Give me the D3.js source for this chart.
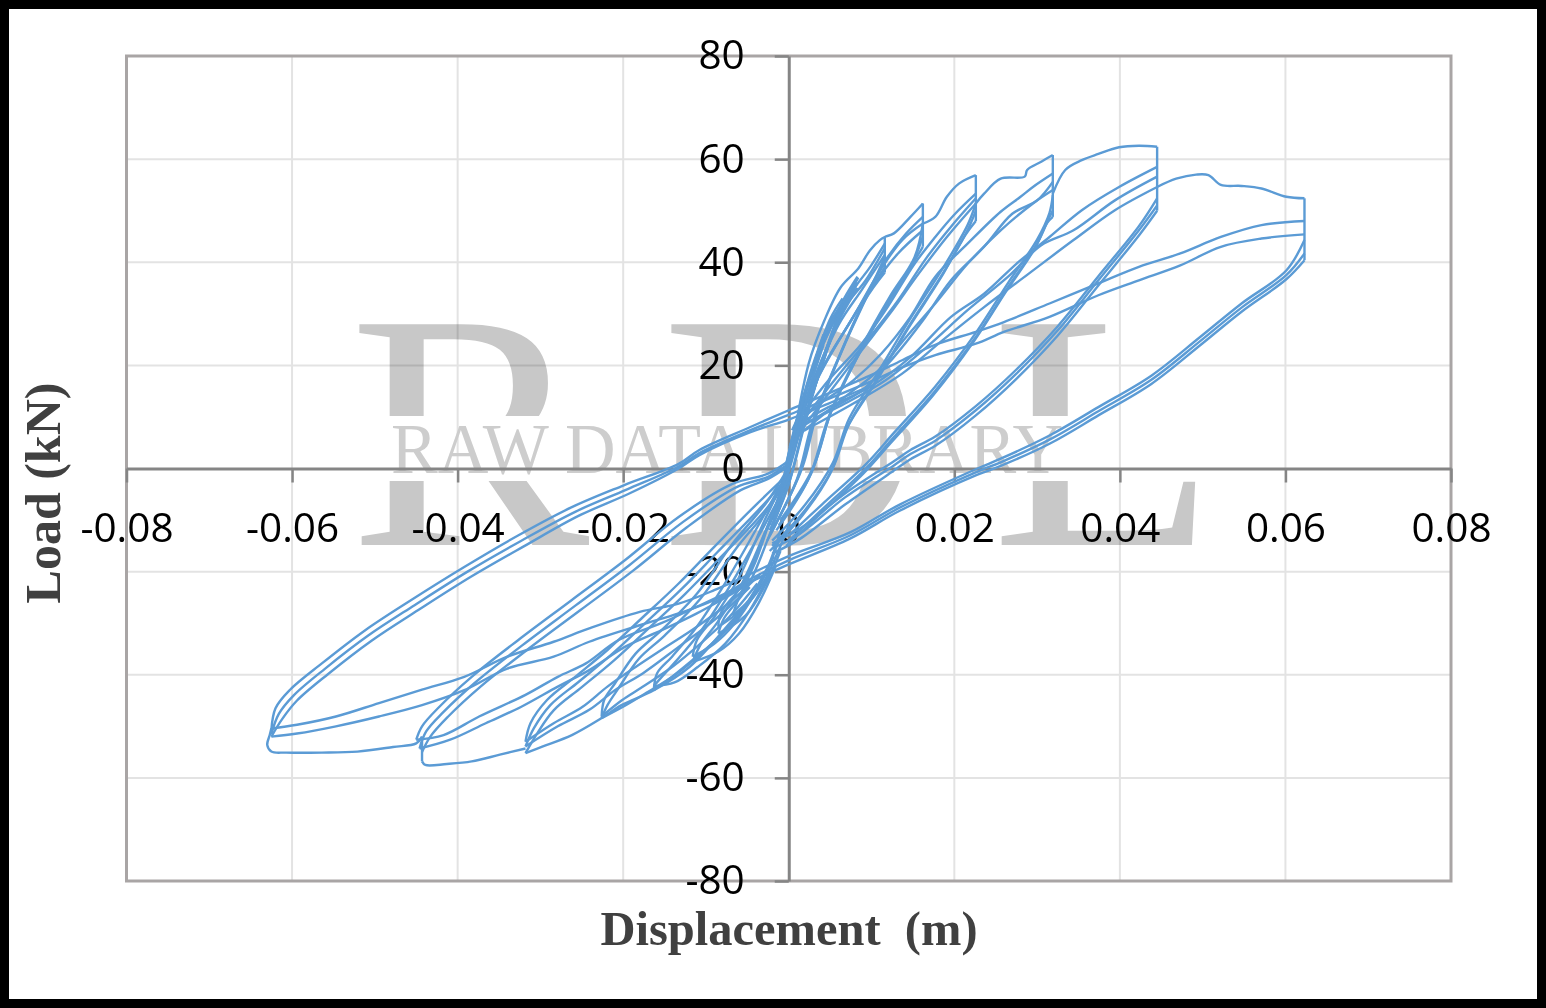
<!DOCTYPE html>
<html><head><meta charset="utf-8">
<script src="https://cdn.jsdelivr.net/npm/d3@7"></script>
<style>html,body{margin:0;padding:0;background:#fff}svg{display:block}</style>
</head><body><svg id="c" width="1546" height="1008"></svg>
<script>
const xTicks=[-0.08,-0.06,-0.04,-0.02,0,0.02,0.04,0.06,0.08];
const yTicks=[-80,-60,-40,-20,0,20,40,60,80];
const xTickLabels=["-0.08","-0.06","-0.04","-0.02","0","0.02","0.04","0.06","0.08"];
const yTickLabels=["-80","-60","-40","-20","0","20","40","60","80"];
const xTitle="Displacement  (m)", yTitle="Load (kN)";

// Virgin (first cycle) envelope, one array per amplitude step
const envPosA=[[0,0],[.0024,20.3],[.0043,28.7],[.0063,35.2],[.0084,38.8],[.0098,42.3],[.011,44.3],[.0116,44.9],[.0127,45.6],[.0147,48.8],[.0162,51.4]];
const envPosB=[[.0162,47.5],[.0177,48.8],[.0191,52.7],[.0206,55.3],[.0226,56.9]];
const envPosC=[[.0226,51.4],[.0236,53.3],[.0256,56.2],[.0285,56.6],[.0288,57.9],[.0305,59.5],[.0319,60.8]];
const envPosD=[[.0319,53.3],[.0334,57.9],[.0354,59.8],[.0374,61],[.0399,62.3],[.0423,62.6],[.0445,62.4]];
const envPosE=[[.0445,54.6],[.0468,56.2],[.0492,57],[.0507,56.9],[.0522,55],[.0547,54.8],[.0571,54.3],[.0601,52.7],[.0623,52.4]];
const envNegA=[[0,-11],[-.0034,-23],[-.0068,-29.4],[-.012,-38.5],[-.0163,-43],[-.0202,-45.9],[-.0226,-48.4],[-.0262,-51.7],[-.0297,-53.9],[-.0318,-55.2]];
const envNegB=[[-.0318,-54.3],[-.0349,-55.5],[-.0383,-56.8],[-.0413,-57.3],[-.0439,-57.5],[-.0443,-56.8]];
const envNegC=[[-.0443,-52],[-.045,-53.3],[-.0478,-54],[-.0521,-54.9],[-.0564,-55.1],[-.0607,-55.1],[-.0625,-54.9],[-.063,-53.6],[-.0627,-51.7],[-.0625,-50.4]];
// Straight drops at the tips
const tip62=[[.0623,52.4],[.0623,40.4]];
const tip45=[[.0445,62.4],[.0445,50]];
const tip32=[[.0319,60.8],[.0319,48.8]];
const tip22=[[.0226,56.9],[.0226,48]];
const tip16=[[.0162,51.4],[.0162,43]];
const tip11=[[.0116,44.9],[.0116,38]];
const tipN45=[[-.0443,-56.8],[-.0443,-52]];

// Reloading from the -0.0625 tip, up to the +0.0625 tip
const reloadL62a=[[-.0625,-50.7],[-.062,-46.5],[-.0603,-43],[-.0564,-37.8],[-.0512,-31.4],[-.0456,-25.5],[-.0392,-19.1],[-.0327,-13],[-.0262,-7.5],[-.02,-3.3],[-.0133,.9],[-.0108,3.6],[-.0047,8],[0,11.3],[.0098,18],[.0137,21],[.0177,24],[.0226,26.5],[.026,28.4],[.0315,32],[.0374,35.9],[.0423,39.1],[.0473,41.7],[.0522,44.9],[.0571,47.2],[.0623,48]];
const reloadL62b=[[-.0625,-51.5],[-.0616,-47.6],[-.0598,-44],[-.056,-38.8],[-.0508,-32.4],[-.0452,-26.5],[-.0388,-20],[-.0323,-14],[-.0258,-8.4],[-.0196,-4.1],[-.0133,.4],[-.0108,3],[-.0047,7.4],[0,10.4],[.0098,16.8],[.0137,19.6],[.0177,22],[.0226,24.2],[.026,26.5],[.0315,29.4],[.0374,33.6],[.0423,36.5],[.0473,39.4],[.0522,43],[.0571,44.6],[.0623,45.4]];
const reloadL62c=[[-.0625,-52],[-.0612,-48.6],[-.0594,-45],[-.0556,-39.8],[-.0504,-33.4],[-.0448,-27.5],[-.0384,-21],[-.0319,-15],[-.0254,-9.2],[-.0192,-4.8],[-.0133,0],[-.0108,2.6],[-.0047,7],[0,9.5],[.0048,12.6],[.0098,16]];
// Unloading from the +0.0625 tip, down to the -0.0625 tip
const unloadR62a=[[.0623,44.3],[.0601,38.4],[.0547,32],[.0497,25.5],[.0438,18],[.0374,11.9],[.0315,6.4],[.0256,1.9],[.0228,0],[.0134,-7],[.0074,-12.4],[0,-17],[-.0047,-20.5],[-.009,-23.6],[-.0133,-26.2],[-.018,-27.8],[-.0241,-31],[-.0284,-33.6],[-.034,-36.5],[-.0392,-40.4],[-.0443,-42.9],[-.0495,-45.5],[-.0547,-48.1],[-.0594,-49.7],[-.0625,-50.4]];
const unloadR62b=[[.0623,41.7],[.0601,37.5],[.0547,31.2],[.0497,24.7],[.0438,17.2],[.0374,11.1],[.0315,5.6],[.0256,1.2],[.0228,-.6],[.0134,-7.6],[.0074,-13],[0,-17.8],[-.0047,-21.5],[-.009,-25.5],[-.0133,-28.1],[-.018,-30.4],[-.0241,-33.6],[-.0284,-36.5],[-.034,-38.8],[-.0392,-43],[-.0443,-45.9],[-.0495,-48.1],[-.0547,-50],[-.0594,-51.4],[-.0625,-52]];
const unloadR62c=[[.0623,40.4],[.0601,36.7],[.0547,30.4],[.0497,23.9],[.0438,16.4],[.0374,10.3],[.0315,4.8],[.0256,.5],[.0228,-1.2],[.0134,-8.2],[.0074,-13.6],[0,-18.6],[-.0047,-22],[-.009,-26]];

// Amplitude 0.0445
const reload45a=[[.0019,9.3],[.0048,11.9],[.0098,15.8],[.0147,21.6],[.0196,29.4],[.0236,33.9],[.0275,39.7],[.0315,44.9],[.0354,50.1],[.0399,54.6],[.0445,58.5]];
const reload45b=[[.0019,8.7],[.0068,12.6],[.0117,17.1],[.0167,23.6],[.0216,30.7],[.0265,37.2],[.0305,43.3],[.0344,46.2],[.0394,52],[.0445,56.6]];
const reload45c=[[.0019,7.4],[.0078,12.6],[.0137,18.4],[.0186,24.9],[.0236,31.3],[.029,37.8],[.0344,44.3],[.0394,50.1],[.0445,54.6]];
const unload45a=[[.0445,52.4],[.0423,47],[.0374,37.3],[.0325,27.6],[.0275,19.2],[.0226,12.1],[.0177,6.2],[.0147,3.6],[.0127,1.4],[.007,-4.6],[.0014,-11.6],[-.002,-14.5]];
const unload45b=[[.0445,51],[.0423,46.2],[.0374,36.5],[.0325,26.8],[.0275,18.4],[.0226,11.3],[.0177,5.4],[.0147,2.8],[.0127,.6],[.0068,-5.6],[.0014,-12.6],[-.002,-15.5]];
const unload45c=[[.0445,50],[.0423,45.2],[.0374,35.5],[.0325,25.8],[.0275,17.4],[.0226,10.3],[.0177,4.4],[.0147,1.8],[.0127,-.4],[.0068,-7],[.0014,-13.6],[-.002,-16.5]];
// Amplitude 0.032
const reload32a=[[.0009,8.7],[.0038,12.6],[.0078,17.1],[.0112,22.3],[.0147,29.4],[.0177,37.2],[.0216,43.6],[.0256,49.8],[.028,52.7],[.0295,54.6],[.0319,57.2]];
const reload32b=[[.0009,7.4],[.0048,11.3],[.0088,15.1],[.0127,21.6],[.0162,28.7],[.0196,36.5],[.0236,43],[.027,49.4],[.03,52],[.0319,55.6]];
const reload32c=[[.0009,6.1],[.0068,13.9],[.0108,19],[.0142,25.5],[.0177,32],[.0216,39.7],[.0256,46.2],[.0295,51.4],[.0319,54]];
const unload32a=[[.0319,53],[.0315,49.6],[.03,44.4],[.0265,36],[.0226,26.3],[.0177,15.9],[.0127,6.9],[.0093,.8],[.004,-7],[0,-13]];
const unload32b=[[.0319,50],[.0315,48.8],[.03,43.6],[.0265,35.2],[.0226,25.5],[.0177,15.1],[.0127,6.1],[.0093,0],[.004,-8],[0,-14]];
const unload32c=[[.0319,48.8],[.0312,47.6],[.0297,42.6],[.0262,34.2],[.0223,24.5],[.0174,14.1],[.0124,5.1],[.009,-1],[.0037,-9],[-.0003,-15]];
// Amplitude 0.0225
const reload22a=[[.0014,10],[.0048,17.1],[.0088,24.2],[.0117,30.7],[.0152,39.7],[.0177,44.9],[.0201,49.4],[.0226,53.3]];
const reload22b=[[.0014,8.7],[.0058,17.7],[.0098,25.5],[.0132,32.6],[.0167,41],[.0196,46.9],[.0226,52.4]];
const reload22c=[[.0009,6.1],[.0048,14.5],[.0088,22.9],[.0122,30],[.0157,37.8],[.0191,44.9],[.0226,51.4]];
const unload22a=[[.0226,51.4],[.0216,47.2],[.0186,38.8],[.0147,29.1],[.0108,18.7],[.0073,9.7],[.0053,1],[.002,-7],[-.002,-14]];
const unload22b=[[.0226,50],[.0216,46.2],[.0186,37.8],[.0147,28.1],[.0108,17.7],[.0073,8.7],[.0053,0],[.002,-8],[-.002,-15]];
const unload22c=[[.0226,48],[.0213,45.2],[.0183,36.8],[.0144,27.1],[.0105,16.7],[.007,7.7],[.005,-1],[.0017,-9],[-.0023,-16]];
// Amplitude 0.016
const reload16a=[[.0004,7.4],[.0029,15.8],[.0058,24.2],[.0088,32],[.0117,40.4],[.0142,45.6],[.0162,48.8]];
const reload16b=[[.0001,4.1],[.0019,12.6],[.0048,21.6],[.0078,29.4],[.0108,37.8],[.0137,44.3],[.0162,47.5]];
const reload16c=[[.0011,8.7],[.0038,18.4],[.0068,26.8],[.0098,34.6],[.0132,41.7],[.0162,46.2]];
const unload16a=[[.0162,47.5],[.0152,41],[.0122,33.3],[.0088,23.6],[.0053,11.9],[.0029,0],[-.001,-10]];
const unload16b=[[.0162,45],[.015,40],[.012,32.3],[.0086,22.6],[.0051,10.9],[.0027,-1],[-.0012,-11]];
const unload16c=[[.0162,43],[.0147,39],[.0117,31.3],[.0083,21.6],[.0048,9.9],[.0024,-2],[-.0015,-12]];
// Amplitude 0.0115
const reload11a=[[.0001,2.8],[.0024,14.5],[.0053,26.1],[.0078,34.6],[.0098,39],[.0116,43.6]];
const reload11b=[[.0011,8.7],[.0038,20.3],[.0068,31.3],[.0093,36.5],[.0116,42.7]];
const reload11c=[[.0004,4.1],[.0034,18.4],[.0061,28.1],[.0088,34.6],[.0116,41.4]];
const unload11a=[[.0116,41],[.0098,34.6],[.0068,24.2],[.0034,10.6],[.0016,0],[-.002,-12]];
const unload11b=[[.0116,39],[.0095,33.6],[.0065,23.2],[.0031,9.6],[.0013,-1],[-.0023,-13]];
const unload11c=[[.0116,38],[.0092,32.6],[.0062,22.2],[.0028,8.6],[.001,-2],[-.0026,-14]];
// Amplitude 0.008
const reload8a=[[0,2.2],[.0019,13.9],[.0043,25.5],[.0068,33.3],[.0083,37.2]];
const reload8b=[[-.0003,1],[.0016,12.8],[.004,23.5],[.0065,31.8],[.0083,36]];
const reload8c=[[-.0005,-1],[.0012,11],[.0036,22],[.006,30],[.0083,35]];
const unload8a=[[.0084,37],[.0063,30.7],[.0038,19],[.0014,7.4],[.0001,0],[-.002,-10]];
const unload8b=[[.0083,36],[.006,29],[.0035,17.5],[.0011,6],[-.0002,-1],[-.0023,-11]];
const unload8c=[[.0083,35],[.0057,27.5],[.0032,16],[.0008,4.6],[-.0005,-2],[-.0026,-12]];
// Amplitudes 0.006 and 0.004
const reload6a=[[-.001,-5],[.001,8],[.003,20],[.005,29],[.0065,33]];
const reload6b=[[-.0014,-7],[.0007,6.5],[.0027,18.5],[.0047,27.5],[.0065,32]];
const unload6a=[[.0065,32],[.0045,23],[.002,9],[0,-3],[-.002,-11]];
const unload6b=[[.0065,31],[.0042,21.5],[.0017,7.5],[-.0003,-4.5],[-.0023,-12]];
const reload4a=[[-.0008,-4],[.001,9],[.0025,18],[.0042,26]];
const reload4b=[[-.0011,-6],[.0007,7],[.0022,16],[.0042,25]];
const unload4a=[[.0042,25],[.0026,16],[.0008,5],[-.0008,-5],[-.0018,-10]];
const unload4b=[[.0042,24],[.0023,14.5],[.0005,3.5],[-.0011,-6.5],[-.002,-11]];

// Negative side: loading towards each negative tip
const load45a=[[-.0025,-20.4],[-.0068,-23.6],[-.0111,-26.8],[-.0154,-30],[-.0206,-33.3],[-.0245,-37.8],[-.0279,-40.4],[-.0318,-43.9],[-.0374,-48.1],[-.0417,-51.7],[-.045,-52.6]];
const load45b=[[-.0047,-22.3],[-.0111,-28.1],[-.0154,-31.4],[-.0198,-34.6],[-.0241,-39.1],[-.0279,-42.3],[-.0323,-46.2],[-.0366,-49.4],[-.0409,-52.6],[-.0446,-54.3]];
const load32a=[[-.0034,-20.4],[-.0068,-25.5],[-.0111,-30.7],[-.0154,-35.2],[-.0185,-38.5],[-.0219,-42.3],[-.0249,-46.2],[-.0284,-49.4],[-.0318,-53]];
const load32b=[[-.0047,-23],[-.009,-29.4],[-.0133,-34.6],[-.0176,-39.7],[-.021,-43],[-.0241,-46.8],[-.0279,-50],[-.0318,-53.9]];
const load22a=[[-.0038,-22.3],[-.0072,-28.8],[-.0107,-34],[-.0141,-38.5],[-.0176,-42.3],[-.0202,-45],[-.0226,-48.1]];
const load22b=[[-.0034,-23],[-.0068,-30],[-.0103,-35.5],[-.0137,-40],[-.0172,-43.5],[-.0198,-46],[-.0226,-48.4]];
const load16a=[[-.0025,-19],[-.005,-26],[-.008,-32],[-.0115,-37],[-.0142,-40.5],[-.0163,-43]];
const load16b=[[-.0022,-20],[-.0047,-27.5],[-.0077,-34],[-.011,-38.5],[-.0138,-41.5],[-.0163,-42.2]];
const load11a=[[-.0018,-17],[-.004,-24],[-.0065,-30],[-.009,-34],[-.0116,-36.5]];
const load11b=[[-.0016,-19],[-.0036,-26],[-.006,-32],[-.0085,-35.5],[-.0116,-37.5]];
const load8a=[[-.0012,-14],[-.003,-21],[-.0055,-27],[-.0085,-30.7]];
const load8b=[[-.001,-16],[-.0028,-22.5],[-.0052,-28.5],[-.0085,-32]];
const load6a=[[-.001,-12],[-.0025,-19],[-.0048,-25.5],[-.0068,-28.5]];

// Reloading from each negative tip, back through the origin
const back45a=[[-.045,-52.6],[-.0443,-50],[-.0422,-46.2],[-.0383,-40.4],[-.0327,-33.3],[-.0262,-25.5],[-.0198,-17.8],[-.0133,-9.4],[-.0068,-3],[-.0025,-1],[0,1.5]];
const back45b=[[-.0446,-54.3],[-.0438,-51],[-.0417,-47.2],[-.0378,-41.4],[-.0322,-34.3],[-.0257,-26.5],[-.0193,-18.8],[-.0128,-10.4],[-.0063,-3.6],[-.0025,-1.6],[0,1]];
const back45c=[[-.0443,-55],[-.0433,-52],[-.0412,-48.2],[-.0373,-42.4],[-.0317,-35.3],[-.0252,-27.5],[-.0188,-19.8],[-.0123,-11.4],[-.0058,-4.2],[-.0025,-2],[0,.5]];
const back32a=[[-.0318,-53],[-.0312,-49.4],[-.0292,-44.9],[-.0258,-40.4],[-.0219,-35.2],[-.0176,-28.8],[-.0133,-22.3],[-.009,-15.2],[-.0038,-6.8],[0,-1]];
const back32b=[[-.0318,-53.9],[-.0308,-50.4],[-.0288,-45.9],[-.0254,-41.4],[-.0215,-36.2],[-.0172,-29.8],[-.0129,-23.3],[-.0086,-16.2],[-.0034,-7.6],[0,-1.5]];
const back32c=[[-.0318,-55.2],[-.0304,-51.4],[-.0284,-46.9],[-.025,-42.4],[-.0211,-37.2],[-.0168,-30.8],[-.0125,-24.3],[-.0082,-17.2],[-.003,-8.4],[0,-2]];
const back22a=[[-.0226,-48.1],[-.0223,-44.9],[-.021,-41.7],[-.0185,-35.9],[-.0154,-31.4],[-.0111,-24.3],[-.0068,-14.6],[-.0025,-6.2],[0,.3]];
const back22b=[[-.0226,-48.4],[-.0219,-45.9],[-.0206,-42.7],[-.0181,-36.9],[-.015,-32.4],[-.0107,-25.3],[-.0064,-15.6],[-.0021,-7],[0,-.3]];
const back16a=[[-.0163,-43],[-.0159,-39.7],[-.0141,-36.5],[-.0111,-30.7],[-.0077,-22.3],[-.0038,-11.4],[0,-.4]];
const back16b=[[-.0163,-42.2],[-.0155,-40.7],[-.0137,-37.5],[-.0107,-31.7],[-.0073,-23.3],[-.0034,-12.4],[.0003,-1.2]];
const back11a=[[-.0116,-36.5],[-.0111,-33.3],[-.009,-28.8],[-.006,-21.1],[-.0029,-10],[0,-.4]];
const back11b=[[-.0116,-37.5],[-.0107,-34.3],[-.0086,-29.8],[-.0056,-22.1],[-.0025,-11],[.0003,-1]];
const back8a=[[-.0085,-30.7],[-.0082,-28],[-.0055,-22.3],[-.0029,-12.6],[-.0003,-1.7]];
const back8b=[[-.0085,-32],[-.0078,-29],[-.0051,-23.3],[-.0025,-13.6],[0,-2.5]];
const back6a=[[-.0068,-28.5],[-.006,-25],[-.004,-18],[-.002,-9],[.0002,-1]];

const branches=[envPosA,envPosB,envPosC,envPosD,envPosE,envNegA,envNegB,envNegC,
 tip62,tip45,tip32,tip22,tip16,tip11,tipN45,
 reloadL62a,reloadL62b,reloadL62c,unloadR62a,unloadR62b,unloadR62c,
 reload45a,reload45b,reload45c,unload45a,unload45b,unload45c,
 reload32a,reload32b,reload32c,unload32a,unload32b,unload32c,
 reload22a,reload22b,reload22c,unload22a,unload22b,unload22c,
 reload16a,reload16b,reload16c,unload16a,unload16b,unload16c,
 reload11a,reload11b,reload11c,unload11a,unload11b,unload11c,
 reload8a,reload8b,reload8c,unload8a,unload8b,unload8c,
 reload6a,reload6b,unload6a,unload6b,reload4a,reload4b,unload4a,unload4b,
 load45a,load45b,load32a,load32b,load22a,load22b,load16a,load16b,load11a,load11b,load8a,load8b,load6a,
 back45a,back45b,back45c,back32a,back32b,back32c,back22a,back22b,back16a,back16b,back11a,back11b,back8a,back8b,back6a];

const svg=d3.select("#c");
const L=126.5,R=1451,T=56,B=881;
const x=d3.scaleLinear().domain([-0.08,0.08]).range([L,R]);
const y=d3.scaleLinear().domain([-80,80]).range([B,T]);
const FONT="'Open Sans',sans-serif";

// gridlines
const grid=svg.append("g");
grid.selectAll("line.v").data(xTicks.filter(t=>t!==0&&Math.abs(t)!==.08)).join("line")
 .attr("class","v").attr("x1",d=>x(d)).attr("x2",d=>x(d)).attr("y1",T).attr("y2",B).attr("stroke","#e3e3e3").attr("stroke-width",2);
grid.selectAll("line.h").data(yTicks.filter(t=>t!==0&&Math.abs(t)!==80)).join("line")
 .attr("class","h").attr("y1",d=>y(d)).attr("y2",d=>y(d)).attr("x1",L).attr("x2",R).attr("stroke","#e3e3e3").attr("stroke-width",2);

// watermark
const defs=svg.append("defs");
const cp=defs.append("clipPath").attr("id","band");
cp.append("rect").attr("x",300).attr("y",300).attr("width",1000).attr("height",116);
cp.append("rect").attr("x",300).attr("y",481).attr("width",1000).attr("height",80);
const wm=svg.append("g").attr("clip-path","url(#band)").attr("fill","#c8c8c8")
 .attr("font-family","'Liberation Serif',serif").attr("font-size",337)
 .style("mix-blend-mode","multiply");
wm.append("text").attr("transform","translate(349,545) scale(1.07,1)").text("R");
wm.append("text").attr("transform","translate(661,545) scale(1.07,1)").text("D");
wm.append("text").attr("transform","translate(991,545) scale(1.1,1)").text("L");
svg.append("text").attr("x",391).attr("y",473).attr("font-family","'Liberation Serif',serif")
 .attr("font-size",72).attr("fill","#cdcdcd").attr("textLength",672).attr("lengthAdjust","spacingAndGlyphs").text("RAW DATA LIBRARY");

// plot border
svg.append("rect").attr("x",L).attr("y",T).attr("width",R-L).attr("height",B-T)
 .attr("fill","none").attr("stroke","#a9a5a5").attr("stroke-width",3);

// axes
const xAxis=d3.axisBottom(x).tickValues(xTicks).tickFormat((d,i)=>xTickLabels[i]).tickSize(14).tickPadding(31).tickSizeOuter(0);
const yAxis=d3.axisLeft(y).tickValues(yTicks).tickFormat((d,i)=>yTickLabels[i]).tickSize(14).tickPadding(30).tickSizeOuter(0);
const gx=svg.append("g").attr("transform",`translate(0,${y(0)})`).call(xAxis);
const gy=svg.append("g").attr("transform",`translate(${x(0)},0)`).call(yAxis);
[gx,gy].forEach(g=>{
  g.selectAll("path.domain").attr("stroke","#858585").attr("stroke-width",3);
  g.selectAll("line").attr("stroke","#858585").attr("stroke-width",2.5);
  g.selectAll("text").attr("font-family",FONT).attr("font-size",40.5).attr("fill","#000");
});

// curves
const line=d3.line().x(d=>x(d[0])).y(d=>y(d[1])).curve(d3.curveCatmullRom.alpha(0.5));
svg.append("g").selectAll("path").data(branches).join("path").attr("d",line)
 .attr("fill","none").attr("stroke","#5b9bd5").attr("stroke-width",2.4).attr("stroke-linejoin","round");

// titles
svg.append("text").attr("x",789).attr("y",945).attr("text-anchor","middle")
 .attr("font-family","'Liberation Serif',serif").attr("font-weight","bold").attr("font-size",48.5)
 .attr("fill","#404040").style("white-space","pre").text(xTitle);
svg.append("text").attr("transform","translate(60,493) rotate(-90)").attr("text-anchor","middle")
 .attr("font-family","'Liberation Serif',serif").attr("font-weight","bold").attr("font-size",50)
 .attr("fill","#404040").text(yTitle);

// black frame
svg.append("rect").attr("x",4.5).attr("y",4.5).attr("width",1537).attr("height",999)
 .attr("fill","none").attr("stroke","#000").attr("stroke-width",9);
</script></body></html>
